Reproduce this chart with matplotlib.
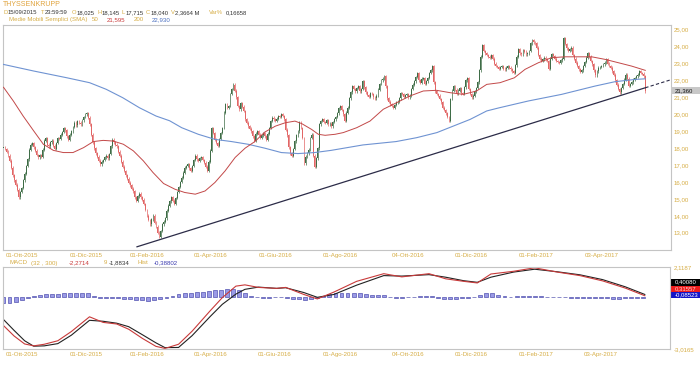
import numpy as np
import pandas as pd
import matplotlib
matplotlib.use("Agg")
import matplotlib.pyplot as plt
from matplotlib.patches import Rectangle

plt.rcParams['font.family'] = ['Liberation Sans', 'DejaVu Sans']

# --- data --------------------------------------------------------------
start_date = '2015-09-15'
holidays = ['2015-12-24', '2015-12-25', '2015-12-31', '2016-01-01', '2016-03-25',
            '2016-03-28', '2016-10-03', '2016-12-26', '2017-04-14', '2017-04-17',
            '2017-05-01']

first_open = 18.025
closes = [
    18.04, 17.95, 17.80, 17.55, 17.25, 16.85, 16.40, 16.10, 15.85, 15.55,
    15.10, 15.40, 15.65, 16.10, 16.50, 16.95, 17.35, 17.90, 18.20, 18.30,
    18.05, 17.85, 17.60, 17.45, 17.60, 17.50, 17.90, 18.45, 18.60, 18.20,
    18.10, 18.35, 18.45, 18.15, 17.95, 18.30, 18.60, 18.55, 18.80, 18.95,
    19.20, 19.05, 18.70, 18.50, 18.80, 19.00, 19.25, 19.50, 19.35, 19.60,
    19.50, 19.40, 19.65, 19.85, 20.00, 20.05, 19.80, 19.40, 18.80, 18.35,
    18.00, 17.70, 17.50, 17.25, 17.05, 17.20, 17.30, 17.45, 17.55, 17.40,
    17.65, 18.10, 18.50, 18.35, 18.20, 18.10, 17.80, 17.55, 17.20, 16.90,
    16.65, 16.40, 16.20, 15.95, 15.80, 15.60, 15.45, 15.10, 14.90, 15.15,
    15.30, 15.10, 14.95, 14.70, 14.35, 14.00, 13.75, 13.50, 13.80, 14.00,
    13.60, 13.35, 13.00, 12.75, 13.10, 13.50, 13.65, 13.85, 14.30, 14.60,
    14.85, 15.10, 14.90, 14.70, 15.05, 15.40, 15.70, 16.00, 16.25, 16.55,
    16.85, 16.95, 17.05, 16.80, 16.65, 16.95, 17.30, 17.55, 17.35, 17.25,
    17.40, 17.45, 17.30, 17.15, 16.90, 16.65, 17.20, 17.85, 19.20, 18.90,
    18.50, 18.30, 18.15, 18.55, 18.90, 19.20, 20.10, 20.60, 20.40, 20.50,
    21.20, 21.50, 21.75, 21.40, 21.00, 20.50, 20.30, 20.65, 20.45, 20.20,
    19.70, 19.50, 19.30, 19.15, 19.00, 18.70, 18.45, 18.85, 19.00, 18.80,
    18.60, 18.75, 18.90, 18.70, 18.50, 18.85, 19.20, 19.60, 19.80, 19.70,
    19.60, 19.75, 19.90, 19.85, 20.00, 19.90, 19.70, 19.10, 18.75, 18.05,
    17.70, 17.55, 17.95, 18.40, 18.75, 19.00, 19.55, 19.20, 18.60, 17.10,
    17.50, 17.70, 17.90, 18.60, 18.80, 17.55, 16.90, 17.40, 18.00, 19.40,
    19.60, 19.70, 19.55, 19.50, 19.65, 19.40, 19.45, 19.30, 19.55, 19.70,
    19.85, 20.05, 20.35, 20.50, 20.25, 20.00, 19.60, 20.10, 20.40, 20.95,
    21.30, 21.65, 21.50, 21.35, 21.55, 21.65, 21.35, 21.50, 21.95, 21.60,
    21.30, 21.15, 21.05, 21.25, 21.20, 21.00, 20.95, 21.10, 21.45, 21.80,
    22.00, 22.10, 22.25, 21.65, 20.95, 20.75, 20.60, 20.50, 20.40, 20.55,
    20.70, 20.75, 20.95, 21.25, 21.20, 21.05, 21.15, 21.20, 21.00, 21.10,
    21.50, 21.75, 21.95, 22.20, 22.45, 22.00, 21.85, 22.10, 22.15, 21.80,
    21.95, 22.15, 22.45, 22.60, 22.85, 21.90, 21.35, 21.20, 21.10, 20.90,
    20.70, 20.40, 20.25, 20.05, 19.85, 19.60, 20.90, 21.40, 21.65, 21.45,
    21.25, 21.40, 21.55, 21.25, 21.20, 21.60, 22.00, 22.15, 21.50, 21.20,
    21.00, 21.10, 21.35, 21.55, 21.90, 22.60, 23.40, 24.10, 23.75, 23.60,
    23.50, 23.40, 23.35, 23.50, 23.30, 23.00, 22.85, 22.80, 22.70, 22.80,
    22.85, 22.70, 22.65, 22.75, 22.85, 22.75, 22.65, 22.55, 22.45, 22.90,
    23.40, 23.85, 23.60, 23.55, 23.80, 23.70, 23.55, 23.60, 23.75, 24.20,
    24.40, 24.25, 24.20, 23.95, 23.50, 23.30, 23.15, 23.25, 23.35, 23.25,
    23.15, 22.70, 23.30, 23.55, 23.45, 23.30, 23.15, 23.10, 23.05, 23.20,
    23.30, 24.50, 24.15, 23.90, 23.75, 23.85, 23.95, 23.50, 23.30, 23.05,
    22.85, 22.65, 22.50, 22.60, 22.85, 23.10, 23.35, 23.60, 23.40, 23.15,
    22.95, 22.60, 22.30, 22.55, 22.75, 22.80, 22.85, 22.95, 23.05, 23.25,
    23.00, 22.85, 22.75, 22.55, 22.35, 22.00, 21.75, 21.50, 21.30, 21.55,
    21.80, 22.05, 22.35, 22.10, 21.70, 21.80, 21.90, 22.05, 22.15, 22.25,
    22.35, 22.55, 22.45, 22.40, 22.25, 21.36,
]

# moving averages (session index, value)
sma50_idx = [0, 6.5, 13, 20, 26.4, 33, 39.6, 46, 53, 59.5, 66, 72.7, 79.4, 86, 92.6,
             99, 106, 113.6, 120, 127, 133.5, 140, 146.7, 153.4, 160, 166.6, 173, 180,
             186.5, 193, 197.5, 204, 208.5, 213, 219.6, 225, 233.9, 242.7, 251.5, 260.4,
             269, 278, 286.8, 295.7, 304.5, 313.3, 320, 328.8, 338.3, 345.4, 354.2, 363,
             371.9, 380.7, 389.5, 398.3, 407.2, 416, 425]
sma50 = [21.60, 20.79, 19.90, 19.02, 18.23, 17.87, 17.74, 17.74, 18.03, 18.39, 18.46,
         18.42, 18.23, 17.84, 17.25, 16.56, 15.91, 15.57, 15.38, 15.28, 15.47, 15.97,
         16.65, 17.45, 18.00, 18.40, 18.95, 19.30, 19.50, 19.60, 19.45, 19.11, 18.82,
         18.76, 18.82, 18.92, 19.21, 19.60, 20.30, 20.69, 21.08, 21.38, 21.42, 21.28,
         21.18, 21.38, 21.77, 21.87, 22.16, 22.66, 23.05, 23.35, 23.40, 23.40, 23.40,
         23.25, 23.05, 22.85, 22.60]
sma200_idx = [0, 20, 42, 57, 68, 79, 90, 101, 110, 118, 129, 140, 151, 162, 173, 184,
              195, 206, 217, 238, 260, 273.6, 287, 298, 309, 320, 328, 347.6, 369.6,
              391.7, 405, 418, 425]
sma200 = [22.95, 22.56, 22.16, 21.87, 21.48, 20.98, 20.39, 19.90, 19.62, 19.21, 18.82,
          18.52, 18.39, 18.23, 18.00, 17.74, 17.68, 17.74, 17.87, 18.19, 18.39, 18.62,
          18.92, 19.31, 19.70, 20.20, 20.38, 20.79, 21.18, 21.67, 21.93, 22.06, 22.10]

# support line drawn on the chart
trend_idx = [88.4, 425, 441.8]
trend_val = [12.17, 21.57, 22.04]

# MACD panel
macd_idx = [0, 7, 14, 20, 27, 36, 45, 57, 66, 75, 83, 92, 101, 107, 116, 125, 137, 145,
            154, 160, 169, 181, 187, 199, 208, 219, 234, 252, 264, 282, 293, 305, 314,
            323, 338, 352, 367, 382, 397, 412, 425]
macd = [-1.55, -2.20, -2.70, -2.82, -2.72, -2.50, -1.92, -1.00, -1.35, -1.45, -1.78,
        -2.35, -2.85, -2.98, -2.72, -1.90, -0.62, 0.20, 0.92, 1.00, 0.84, 0.78, 0.84,
        0.40, 0.12, 0.55, 1.22, 1.70, 1.50, 1.70, 1.38, 1.22, 1.12, 1.68, 1.85, 2.07,
        1.80, 1.58, 1.25, 0.80, 0.32]
signal = [-1.17, -1.85, -2.50, -2.84, -2.82, -2.68, -2.15, -1.22, -1.28, -1.40, -1.62,
          -2.12, -2.63, -2.93, -2.92, -2.18, -0.98, -0.22, 0.42, 0.72, 0.86, 0.78, 0.82,
          0.52, 0.22, 0.40, 0.98, 1.58, 1.55, 1.64, 1.48, 1.26, 1.16, 1.48, 1.80, 1.98,
          1.82, 1.63, 1.33, 0.88, 0.40]
hist_step = 4
hist = [-0.38, -0.36, -0.30, -0.18, -0.05, 0.08, 0.15, 0.18, 0.20, 0.20, 0.22, 0.24,
        0.25, 0.25, 0.22, 0.08, -0.05, -0.08, -0.05, -0.06, -0.10, -0.15, -0.18, -0.20,
        -0.22, -0.20, -0.14, -0.05, 0.08, 0.18, 0.24, 0.28, 0.30, 0.33, 0.36, 0.42, 0.46,
        0.50, 0.52, 0.45, 0.28, 0.08, -0.03, -0.06, -0.04, 0.00, -0.02, -0.08, -0.12,
        -0.14, -0.16, -0.12, -0.05, 0.08, 0.18, 0.22, 0.24, 0.26, 0.25, 0.22, 0.18, 0.14,
        0.12, 0.10, 0.02, -0.04, -0.06, -0.03, 0.03, 0.05, 0.06, 0.05, -0.06, -0.12,
        -0.14, -0.10, -0.06, -0.04, 0.02, 0.15, 0.24, 0.22, 0.14, 0.06, 0.03, 0.05, 0.08,
        0.09, 0.08, 0.05, 0.03, 0.02, 0.00, -0.02, -0.04, -0.06, -0.07, -0.06, -0.08,
        -0.09, -0.08, -0.10, -0.10, -0.09, -0.08, -0.08, -0.09]

tick_dates = ['2015-10-01', '2015-12-01', '2016-02-01', '2016-04-01', '2016-06-01',
              '2016-08-01', '2016-10-04', '2016-12-01', '2017-02-01', '2017-04-03']
tick_labels = ['01-Ott-2015', '01-Dic-2015', '01-Feb-2016', '01-Apr-2016', '01-Giu-2016',
               '01-Ago-2016', '04-Ott-2016', '01-Dic-2016', '01-Feb-2017', '03-Apr-2017']

# --- derived ------------------------------------------------------------
GOLD = '#d6ad45'
DARK = '#333333'
W, H = 700, 365

c = np.array(closes)
o = np.r_[first_open, c[:-1]]
n = len(c)
x = np.arange(n)
hi = np.maximum(o, c) + 0.08
lo = np.minimum(o, c) - 0.08
up = c >= o
cols = np.where(up, '#3f6d47', '#e26666')

bday = pd.offsets.CustomBusinessDay(holidays=holidays)
dates = pd.date_range(start_date, periods=n, freq=bday)
tick_pos = dates.searchsorted(pd.to_datetime(tick_dates))

fig = plt.figure(figsize=(7, 3.65), dpi=100)
xlim = (-0.33, 441.7)


def frame(ax):
    for s in ax.spines.values():
        s.set_color('#c4c4c4')
        s.set_linewidth(0.8)
    ax.set_xlim(*xlim)
    ax.set_xticks(tick_pos)
    ax.set_xticklabels(tick_labels)
    ax.tick_params(axis='x', length=0, pad=2.5, labelsize=4.4, labelcolor=GOLD)
    ax.yaxis.tick_right()
    ax.tick_params(axis='y', length=0, pad=2.5, labelsize=4.4, labelcolor=GOLD)


# main price panel
ax = fig.add_axes([3 / W, 1 - 250 / H, 667.5 / W, 225.5 / H])
frame(ax)
ax.set_ylim(11.98, 25.31)
yt = np.arange(13, 26)
ax.set_yticks(yt)
ax.set_yticklabels([f'{v:.2f}'.replace('.', ',') for v in yt])

ax.vlines(x, lo, hi, colors=cols, linewidth=0.5, zorder=2)
ax.bar(x, np.maximum(np.abs(c - o), 0.04), bottom=np.minimum(o, c), width=0.6,
       color=cols, linewidth=0, zorder=3)
ax.plot(sma200_idx, sma200, color='#6f93d2', linewidth=0.8, zorder=4)
ax.plot(sma50_idx, sma50, color='#c24848', linewidth=0.7, zorder=4)
ax.plot(trend_idx[:2], trend_val[:2], color='#2c2c48', linewidth=0.9, zorder=5)
ax.plot(trend_idx[1:], trend_val[1:], color='#2c2c48', linewidth=0.8,
        linestyle=(0, (3, 2)), zorder=5)

# MACD panel
ax2 = fig.add_axes([3 / W, 1 - 349 / H, 667 / W, 82 / H])
ax3 = ax2.twinx()
frame(ax2)
ax2.set_ylim(-3.0165, 2.1187)
ax2.set_yticks([-3.0165, 2.1187])
ax2.set_yticklabels(['-3,0165', '2,1187'])
ax3.set_ylim(-3.25, 1.875)
ax3.set_yticks([])
for s in ax3.spines.values():
    s.set_visible(False)
hx = np.arange(len(hist)) * hist_step
ax3.bar(hx, hist, width=2.6, color='#9a9ae6', edgecolor='#3434a0', linewidth=0.4)
ax2.set_zorder(ax3.get_zorder() + 1)
ax2.patch.set_visible(False)
ax2.plot(macd_idx, signal, color='#222222', linewidth=0.8)
ax2.plot(macd_idx, macd, color='#c83a3a', linewidth=0.8)


def ftext(px, py, s, color, size=4.4, **kw):
    fig.text(px / W, 1 - py / H, s, color=color, fontsize=size, va='center', ha='left', **kw)


def vbox(py0, py1, s, fc, tc):
    fig.add_artist(Rectangle((671 / W, 1 - py1 / H), 29 / W, (py1 - py0) / H,
                             transform=fig.transFigure, facecolor=fc, edgecolor='none'))
    ftext(675, (py0 + py1) / 2, s, tc, size=4.3)


# header
ftext(3, 4.5, 'THYSSENKRUPP', '#e0a33c', size=5.0)
for px, s, col in [(3.5, 'D', GOLD), (8, '15/09/2015', DARK), (41, 'T', GOLD),
                   (45, '23:59:59', DARK), (72, 'O', GOLD), (76.5, '18,025', DARK),
                   (97, 'H', GOLD), (101.5, '18,145', DARK), (122, 'L', GOLD),
                   (126, '17,715', DARK), (146, 'C', GOLD), (150.5, '18,040', DARK),
                   (171, 'V', GOLD), (175, '2,3664 M', DARK), (209, 'Var%', GOLD),
                   (226, '0,16658', DARK)]:
    ftext(px, 12.7, s, col, size=4.2)
for px, s, col in [(9, 'Medie Mobili Semplici (SMA)', GOLD), (92, '50', GOLD),
                   (107, '21,595', '#c93a3a'), (134, '200', GOLD), (152, '22,930', '#4a6fc0')]:
    ftext(px, 19.5, s, col)
for px, s, col in [(9, 'MACD', GOLD), (31, '(32 , 300)', GOLD), (69, '-2,2714', '#c93a3a'),
                   (103.5, '9', GOLD), (109, '-1,8834', DARK), (137.5, 'Hist', GOLD),
                   (154, '-0,38802', '#3c3cb0')]:
    ftext(px, 263, s, col)

# value boxes on the right
vbox(87.5, 93.5, '21,360', '#c8c8c8', '#111111')
vbox(279, 285.5, '0,40080', '#000000', '#ffffff')
vbox(285.5, 291.5, '0,31557', '#ee1c1c', '#ffd0d0')
vbox(291.5, 297.5, '-0,08523', '#1414c8', '#ffffff')

fig.savefig('out.png', dpi=100)
